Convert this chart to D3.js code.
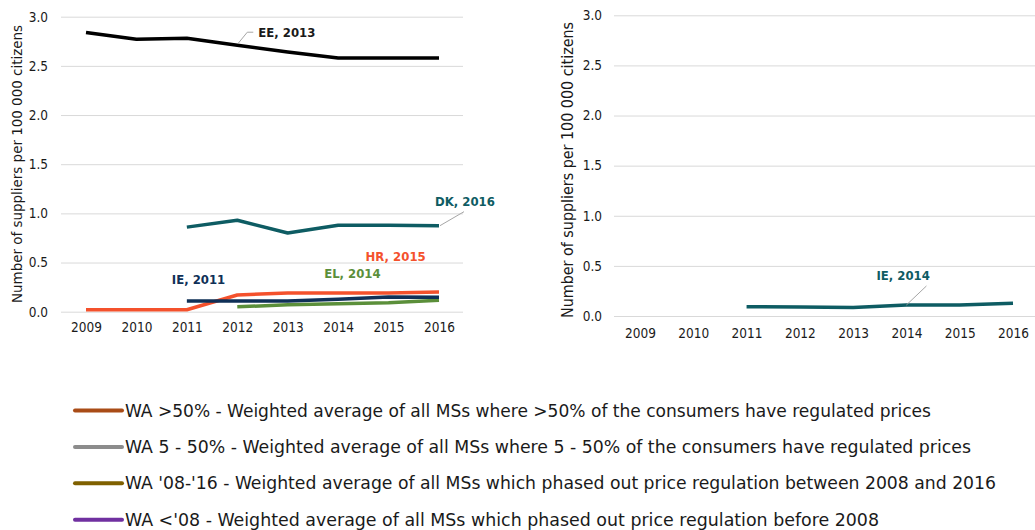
<!DOCTYPE html>
<html>
<head>
<meta charset="utf-8">
<script src="https://cdn.jsdelivr.net/npm/d3@7"></script>
<style>
  body { margin: 0; background: #fff; }
  .axis text { font-family: "DejaVu Sans Condensed", "DejaVu Sans", sans-serif; font-size: 13.5px; fill: #1a1a1a; }
  .axis .domain { display: none; }
  .grid line { stroke: #d9d9d9; stroke-width: 1; }
  .lbl { font-family: "DejaVu Sans Condensed", "DejaVu Sans", sans-serif; font-size: 13px; font-weight: bold; }
  .legend text { font-family: "DejaVu Sans Condensed", "DejaVu Sans", sans-serif; font-size: 17.5px; fill: #1a1a1a; }
</style>
</head>
<body>
<div id="chart"></div>
<script>
var years = [2009, 2010, 2011, 2012, 2013, 2014, 2015, 2016];
var yTicks = [0, 0.5, 1.0, 1.5, 2.0, 2.5, 3.0];

// left panel
var EE = [2.84, 2.77, 2.78, 2.71, 2.64, 2.58, 2.58, 2.58];
var DK = [null, null, 0.86, 0.93, 0.80, 0.88, 0.88, 0.875];
var HR = [0.02, 0.02, 0.02, 0.17, 0.19, 0.19, 0.19, 0.20];
var IE_left = [null, null, 0.11, 0.11, 0.11, 0.126, 0.15, 0.146];
var EL = [null, null, null, 0.05, 0.07, 0.08, 0.09, 0.116];

// right panel
var IE_right = [null, null, 0.093, 0.09, 0.085, 0.11, 0.11, 0.127];

var legendNames = [
  "WA >50% - Weighted average of all MSs where >50% of the consumers have regulated prices",
  "WA 5 - 50% - Weighted average of all MSs where 5 - 50% of the consumers have regulated prices",
  "WA '08-'16 - Weighted average of all MSs which phased out price regulation between 2008 and 2016",
  "WA <'08 - Weighted average of all MSs which phased out price regulation before 2008"
];
var legendColors = ["#a94c17", "#8c8c8c", "#7f6000", "#7030a0"];
var legendWidths = [806, 846, 871, 754];

var svg = d3.select("#chart").append("svg")
    .attr("width", 1035)
    .attr("height", 530);

function panel(opt) {
  var x = d3.scalePoint().domain(years).range(opt.xr);
  var y = d3.scaleLinear().domain([0, 3]).range(opt.yr);
  var g = svg.append("g");

  g.append("g")
      .attr("class", "axis grid")
      .attr("transform", "translate(" + opt.gx[0] + ",0)")
      .call(d3.axisLeft(y).tickValues(yTicks).tickFormat(d3.format(".1f"))
            .tickSize(-(opt.gx[1] - opt.gx[0])).tickPadding(opt.pad));

  g.append("g")
      .attr("class", "axis")
      .attr("transform", "translate(0," + opt.yr[0] + ")")
      .call(d3.axisBottom(x).tickSize(0).tickPadding(opt.xpad));

  g.append("text")
      .attr("transform", "translate(" + opt.tx + "," + opt.ty + ") rotate(-90)")
      .attr("text-anchor", "middle")
      .attr("dy", "0.35em")
      .attr("textLength", opt.tlen)
      .attr("lengthAdjust", "spacingAndGlyphs")
      .style("font-family", "DejaVu Sans Condensed, DejaVu Sans, sans-serif")
      .style("font-size", opt.tfs + "px")
      .style("fill", "#1a1a1a")
      .text("Number of suppliers per 100 000 citizens");

  var line = d3.line()
      .defined(function(d) { return d != null; })
      .x(function(d, i) { return x(years[i]); })
      .y(function(d) { return y(d); });

  opt.series.forEach(function(s) {
    g.append("path")
        .datum(s.values)
        .attr("fill", "none")
        .attr("stroke", s.color)
        .attr("stroke-width", 3.5)
        .attr("stroke-linejoin", "round")
        .attr("d", line);
  });

  opt.labels.forEach(function(l) {
    var px = x(l.year), py = y(l.value);
    if (l.leader) {
      g.append("path")
          .attr("fill", "none")
          .attr("stroke", "#a6a6a6")
          .attr("stroke-width", 1)
          .attr("d", "M" + (px + l.leader[0][0]) + "," + (py + l.leader[0][1]) +
                     "L" + (px + l.leader[1][0]) + "," + (py + l.leader[1][1]) +
                     (l.leader[2] ? "L" + (px + l.leader[2][0]) + "," + (py + l.leader[2][1]) : ""));
    }
    g.append("text")
        .attr("class", "lbl")
        .attr("x", px + l.dx)
        .attr("y", py + l.dy)
        .attr("dy", "0.35em")
        .attr("fill", l.color)
        .text(l.text);
  });
}

panel({
  xr: [86, 439], yr: [311.7, 16.7], gx: [61, 463], pad: 13, xpad: 11,
  tx: 17, ty: 164, tfs: 14.5, tlen: 278,
  series: [
    { values: EE, color: "#000000" },
    { values: DK, color: "#0e5c63" },
    { values: HR, color: "#f4512c" },
    { values: EL, color: "#5b8f3a" },
    { values: IE_left, color: "#0f3057" }
  ],
  labels: [
    { text: "EE, 2013", year: 2012, value: 2.71, dx: 21, dy: -13, color: "#1a1a1a",
      leader: [[1, -2], [10, -13], [16, -13]] },
    { text: "DK, 2016", year: 2016, value: 0.875, dx: -4, dy: -24, color: "#0e5c63",
      leader: [[1, 0], [25, -14]] },
    { text: "HR, 2015", year: 2015, value: 0.19, dx: -23, dy: -37, color: "#f4512c" },
    { text: "EL, 2014", year: 2014, value: 0.08, dx: -14, dy: -30, color: "#5b8f3a" },
    { text: "IE, 2011", year: 2011, value: 0.11, dx: -15, dy: -21, color: "#0f3057" }
  ]
});

panel({
  xr: [640, 1013], yr: [316, 15.3], gx: [614, 1035], pad: 12, xpad: 12,
  tx: 568, ty: 170, tfs: 15.5, tlen: 296,
  series: [
    { values: IE_right, color: "#0e5c63" }
  ],
  labels: [
    { text: "IE, 2014", year: 2014, value: 0.11, dx: -30, dy: -30, color: "#0e5c63",
      leader: [[0, 0], [20, -19]] }
  ]
});

var legend = svg.append("g").attr("class", "legend")
    .selectAll("g")
    .data(legendNames)
    .enter().append("g")
    .attr("transform", function(d, i) { return "translate(75," + (410.5 + i * 36.4) + ")"; });

legend.append("line")
    .attr("x1", 0).attr("x2", 47)
    .attr("stroke", function(d, i) { return legendColors[i]; })
    .attr("stroke-width", 4)
    .attr("stroke-linecap", "round");

legend.append("text")
    .attr("x", 50)
    .attr("dy", "0.35em")
    .attr("textLength", function(d, i) { return legendWidths[i]; })
    .attr("lengthAdjust", "spacingAndGlyphs")
    .text(function(d) { return d; });
</script>
</body>
</html>
